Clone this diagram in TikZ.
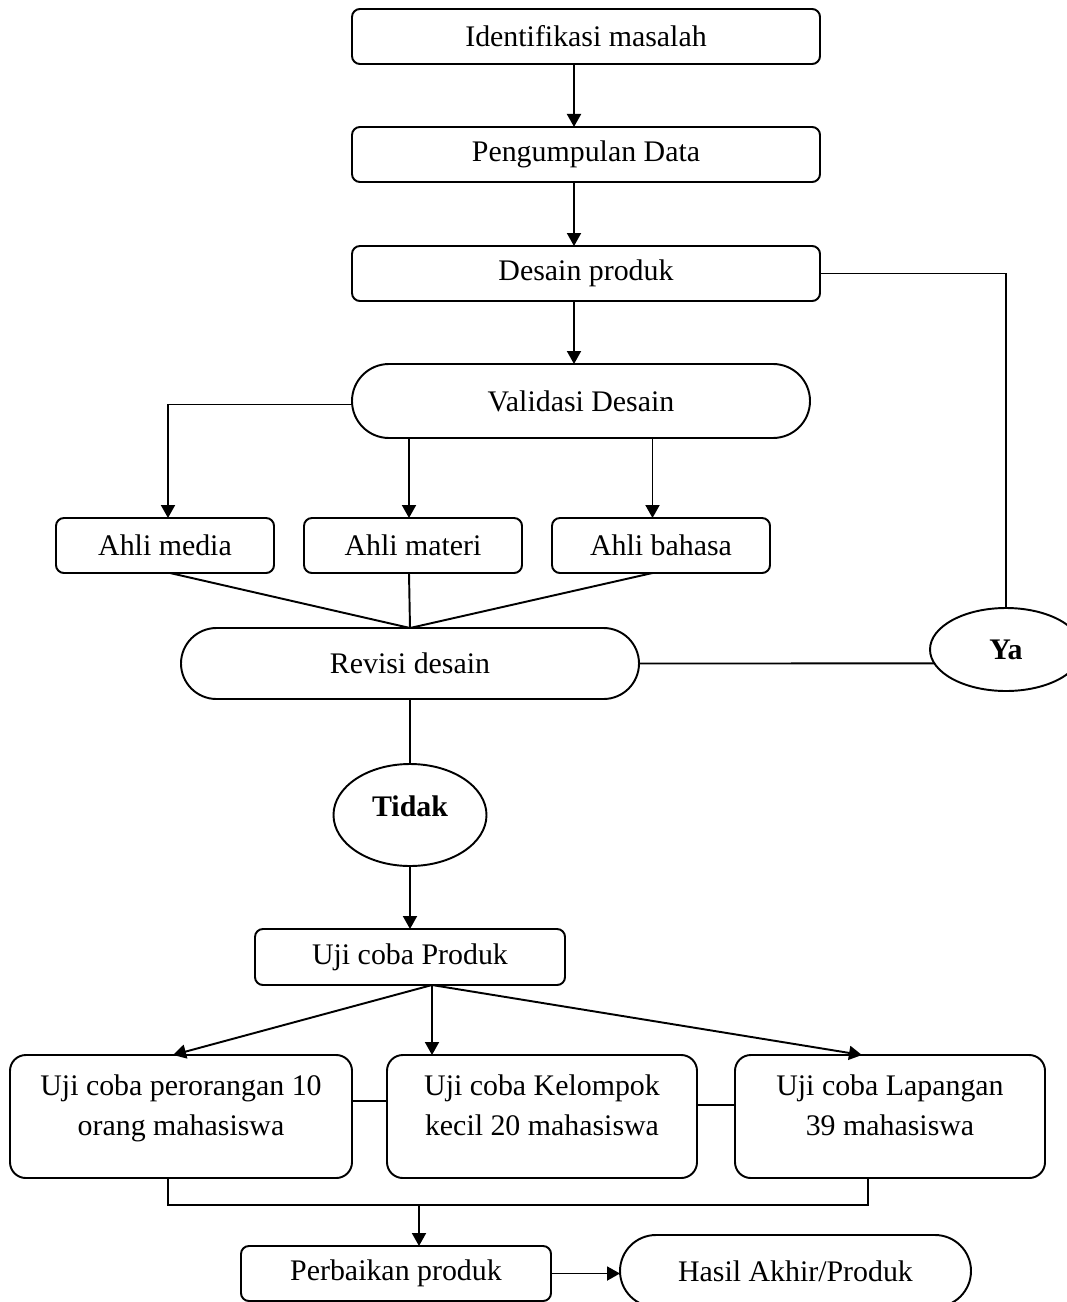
\documentclass[tikz,border=0pt]{standalone}
\usepackage{fontspec}
\setmainfont{Liberation Serif}
\usepackage{tikz}
\usetikzlibrary{positioning,arrows.meta,shapes.geometric,shapes.misc}
\newcommand{\diagfont}{\fontsize{17}{22.8}\selectfont}
\tikzset{
  box/.style={draw=black,line width=1.1pt,rounded corners=4.5pt,inner sep=0pt,outer sep=0pt,
    minimum height=1.1cm,align=center,font=\diagfont},
  bigbox/.style={box,rounded corners=9pt,minimum height=2.46cm,minimum width=6.2cm,
    text depth=0.47cm},
  pill/.style={draw=black,line width=1.1pt,rounded rectangle,inner sep=0pt,outer sep=0pt,
    align=center,font=\diagfont},
  oval/.style={draw=black,line width=1.1pt,ellipse,inner sep=0pt,outer sep=0pt,
    align=center,font=\diagfont\bfseries},
  arrow/.style={-{Triangle[length=2.6mm,width=2.8mm]},line width=1.1pt},
  link/.style={line width=1.1pt}
}
\begin{document}
\begin{tikzpicture}
  \useasboundingbox (0,0) rectangle (21.34,-26.04);
  \node[box, minimum width=9.36cm] (ident) at (11.72,-0.73) {Identifikasi masalah};
  \node[box, minimum width=9.36cm, below=1.26cm of ident] (kumpul) {Pengumpulan Data};
  \node[box, minimum width=9.36cm, below=1.28cm of kumpul] (desain) {Desain produk};
  \node[pill, minimum width=9.16cm, minimum height=1.48cm, below=1.26cm of desain, xshift=-0.1cm] (validasi) {Validasi Desain};

  \node[box, minimum width=4.36cm, below=1.6cm of validasi, xshift=-3.36cm] (materi) {Ahli materi};
  \node[box, minimum width=4.36cm, left=0.6cm of materi] (media) {Ahli media};
  \node[box, minimum width=4.36cm, right=0.6cm of materi] (bahasa) {Ahli bahasa};

  \node[pill, minimum width=9.16cm, minimum height=1.42cm, below=1.1cm of materi, xshift=-0.06cm] (revisi) {Revisi desain};
  \node[oval, minimum width=3.04cm, minimum height=1.66cm, right=5.82cm of revisi, yshift=0.28cm] (ya) {Ya};
  \node[oval, minimum width=3.06cm, minimum height=2.04cm, below=1.3cm of revisi, text depth=0.36cm] (tidak) {Tidak};

  \node[box, minimum width=6.2cm, minimum height=1.12cm, below=1.26cm of tidak] (produk) {Uji coba Produk};
  \node[bigbox, below=1.4cm of produk, xshift=2.64cm] (uji2) {Uji coba Kelompok\\kecil 20 mahasiswa};
  \node[bigbox, minimum width=6.84cm, left=0.7cm of uji2] (uji1) {Uji coba perorangan 10\\orang mahasiswa};
  \node[bigbox, right=0.76cm of uji2] (uji3) {Uji coba Lapangan\\39 mahasiswa};

  \node[box, minimum width=6.2cm, below=1.36cm of uji2, xshift=-2.92cm] (perbaikan) {Perbaikan produk};
  \node[pill, minimum width=7.02cm, minimum height=1.44cm, right=1.38cm of perbaikan, yshift=0.05cm] (hasil) {Hasil Akhir/Produk};

  \draw[arrow] ([xshift=-0.24cm]ident.south) -- ([xshift=-0.24cm]kumpul.north);
  \draw[arrow] ([xshift=-0.24cm]kumpul.south) -- ([xshift=-0.24cm]desain.north);
  \draw[arrow] ([xshift=-0.24cm]desain.south) -- ([xshift=-0.14cm]validasi.north);
  \draw[arrow] ([yshift=-0.07cm]validasi.west) -| ([xshift=0.06cm]media.north);
  \draw[arrow] ([xshift=-0.08cm]materi.north |- validasi.south) -- ([xshift=-0.08cm]materi.north);
  \draw[arrow] ([xshift=-0.17cm]bahasa.north |- validasi.south) -- ([xshift=-0.17cm]bahasa.north);

  \draw[link] ([xshift=0.1cm]media.south) -- (revisi.north);
  \draw[link] ([xshift=-0.08cm]materi.south) -- (revisi.north);
  \draw[link] ([xshift=-0.17cm]bahasa.south) -- (revisi.north);
  \draw[link] (revisi.east) -- (ya.191);
  \draw[link] (ya.north) |- (desain.east);
  \draw[link] (revisi.south) -- (tidak.north);
  \draw[arrow] (tidak.south) -- (produk.north);

  \draw[arrow] ([xshift=0.44cm]produk.south) -- ([xshift=-0.16cm]uji1.north);
  \draw[arrow] ([xshift=0.44cm]produk.south) -- ([xshift=-2.2cm]uji2.north);
  \draw[arrow] ([xshift=0.44cm]produk.south) -- ([xshift=-0.56cm]uji3.north);
  \draw[link] ([yshift=0.31cm]uji1.east) -- ([yshift=0.31cm]uji2.west);
  \draw[link] ([yshift=0.23cm]uji2.east) -- ([yshift=0.23cm]uji3.west);
  \draw[link] ([xshift=-0.26cm]uji1.south) -- ++(0,-0.54) -| ([xshift=-0.44cm]uji3.south);
  \draw[arrow] ([xshift=0.46cm,yshift=0.82cm]perbaikan.north) -- ([xshift=0.46cm]perbaikan.north);
  \draw[arrow] (perbaikan.east) -- (perbaikan.east -| hasil.west);
\end{tikzpicture}
\end{document}
